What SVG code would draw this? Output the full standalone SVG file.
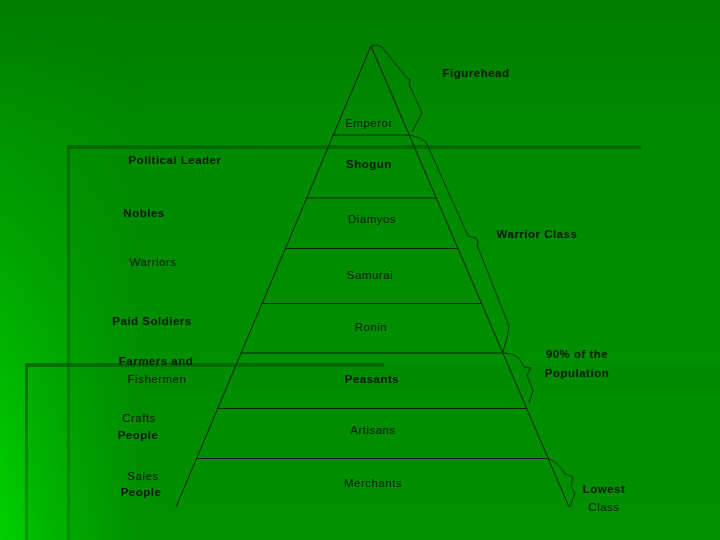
<svg xmlns="http://www.w3.org/2000/svg" width="720" height="540" viewBox="0 0 720 540">
  <defs>
    <linearGradient id="bg" x1="0" y1="0" x2="0" y2="1">
      <stop offset="0" stop-color="#007c00"/>
      <stop offset="0.3" stop-color="#008e00"/>
      <stop offset="1" stop-color="#009800"/>
    </linearGradient>
    <linearGradient id="leftGlow" x1="0" y1="0" x2="1" y2="0">
      <stop offset="0" stop-color="#00d000" stop-opacity="1"/>
      <stop offset="1" stop-color="#00d000" stop-opacity="0"/>
    </linearGradient>
    <linearGradient id="leftMask" x1="0" y1="0" x2="0" y2="1">
      <stop offset="0" stop-color="#fff" stop-opacity="0"/>
      <stop offset="0.35" stop-color="#fff" stop-opacity="0.2"/>
      <stop offset="1" stop-color="#fff" stop-opacity="1"/>
    </linearGradient>
    <mask id="lm">
      <rect x="0" y="0" width="720" height="540" fill="url(#leftMask)"/>
    </mask>
    <linearGradient id="vline" x1="0" y1="0" x2="0" y2="1">
      <stop offset="0" stop-color="#006a00" stop-opacity="0.9"/>
      <stop offset="1" stop-color="#007800" stop-opacity="0.5"/>
    </linearGradient>
  </defs>
  <style>
    .t { font-family: "Liberation Sans", "DejaVu Sans", sans-serif; font-size: 11.5px; fill: #0a1a0a; text-anchor: middle; letter-spacing: 0.5px; }
    .b { font-weight: bold; }
    .ln { stroke: #102010; stroke-width: 1; fill: none; }
    .br { stroke: #102010; stroke-width: 0.8; fill: none; stroke-linejoin: round; }
  </style>

  <!-- background -->
  <g id="background">
    <rect x="0" y="0" width="720" height="540" fill="url(#bg)"/>
    <rect x="0" y="0" width="140" height="540" fill="url(#leftGlow)" mask="url(#lm)"/>
    <rect x="67" y="146" width="653" height="394" fill="#006000" fill-opacity="0.07"/>
    <rect x="25" y="364" width="695" height="176" fill="#006000" fill-opacity="0.07"/>
    <rect x="67" y="145" width="574" height="4" fill="#006400" fill-opacity="0.85"/>
    <rect x="67" y="146" width="3" height="394" fill="url(#vline)"/>
    <rect x="25" y="363" width="359" height="4" fill="#006400" fill-opacity="0.8"/>
    <rect x="25" y="364" width="3" height="176" fill="url(#vline)"/>
  </g>

  <!-- pyramid -->
  <g id="pyramid">
    <path class="ln" d="M176,507 L371,46 L569,507"/>
    <line class="ln" x1="332" y1="135" x2="410" y2="135"/>
    <line class="ln" x1="306" y1="198" x2="436" y2="198"/>
    <line class="ln" x1="285" y1="248.5" x2="458" y2="248.5"/>
    <line class="ln" x1="261" y1="303.5" x2="481" y2="303.5"/>
    <line class="ln" x1="242" y1="353" x2="502" y2="353"/>
    <line class="ln" x1="218" y1="408.5" x2="527" y2="408.5"/>
    <line class="ln" x1="196.5" y1="458.5" x2="549" y2="458.5"/>
  </g>

  <!-- braces -->
  <g id="braces">
    <path class="br" d="M371,46 L377,45 L382,47 L406,77 L410,80 L409,84 L422,113 L412,132"/>
    <path class="br" d="M410,135 Q420,137 426,142 L468,236 L476,238 L478,242 L477,245 L509,326 L508,334 L503,352"/>
    <path class="br" d="M503,353 Q512,353 519,358 L524,367 L531,368 L527,375 L533,391 L529,403"/>
    <path class="br" d="M549,459 Q558,462 565,474 L573,477 L571,487 L575,493 L570,507"/>
  </g>

  <!-- pyramid labels -->
  <g id="tiers">
    <text class="t" x="369" y="127">Emperor</text>
    <text class="t b" x="369" y="168">Shogun</text>
    <text class="t" x="372" y="223">Diamyos</text>
    <text class="t" x="370" y="279">Samurai</text>
    <text class="t" x="371" y="331">Ronin</text>
    <text class="t b" x="372" y="383">Peasants</text>
    <text class="t" x="373" y="434">Artisans</text>
    <text class="t" x="373" y="487">Merchants</text>
  </g>

  <!-- left labels -->
  <g id="roles">
    <text class="t b" x="175" y="164">Political Leader</text>
    <text class="t b" x="144" y="217">Nobles</text>
    <text class="t" x="153" y="266">Warriors</text>
    <text class="t b" x="152" y="325">Paid Soldiers</text>
    <text class="t b" x="156" y="365">Farmers and</text>
    <text class="t" x="157" y="383">Fishermen</text>
    <text class="t" x="139" y="422">Crafts</text>
    <text class="t b" x="138" y="439">People</text>
    <text class="t" x="143" y="480">Sales</text>
    <text class="t b" x="141" y="496">People</text>
  </g>

  <!-- right labels -->
  <g id="groups">
    <text class="t b" x="476" y="77">Figurehead</text>
    <text class="t b" x="537" y="238">Warrior Class</text>
    <text class="t b" x="577" y="358">90% of the</text>
    <text class="t b" x="577" y="377">Population</text>
    <text class="t b" x="604" y="493">Lowest</text>
    <text class="t" x="604" y="511">Class</text>
  </g>
</svg>
